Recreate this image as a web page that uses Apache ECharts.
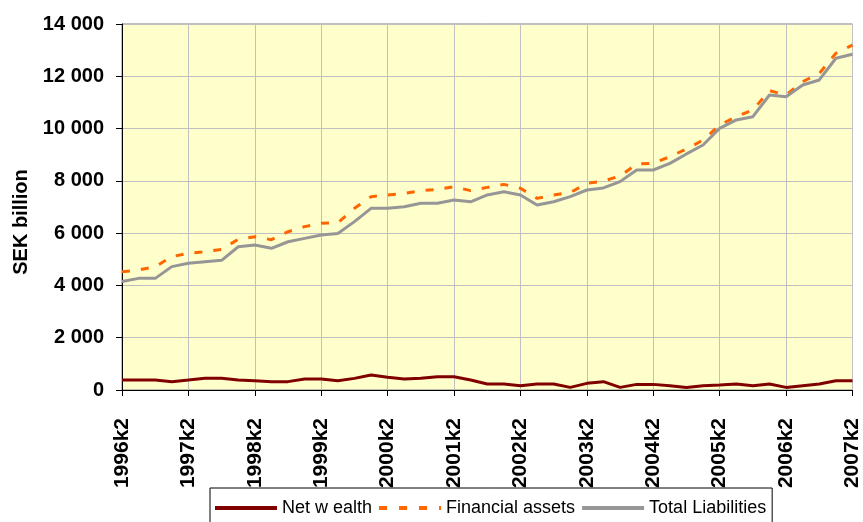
<!DOCTYPE html>
<html>
<head>
<meta charset="utf-8">
<script src="https://cdn.jsdelivr.net/npm/echarts@6/dist/echarts.min.js"></script>
<style>
  html, body { margin: 0; padding: 0; background: #fff; }
  #chart { width: 863px; height: 522px; }
</style>
</head>
<body>
<div id="chart"></div>
<script>
var quarters = [];
for (var y = 1996; y <= 2007; y++) {
    for (var q = 1; q <= 4; q++) {
        if ((y === 1996 && q < 2) || (y === 2007 && q > 2)) continue;
        quarters.push(y + 'k' + q);
    }
}

var netWealth = [380, 380, 380, 320, 380, 445, 445, 380, 355, 320, 320, 420, 420, 350, 445,
    575, 485, 420, 445, 510, 510, 380, 230, 230, 165, 230, 230, 100, 255, 320,
    100, 215, 215, 165, 100, 165, 190, 230, 165, 230, 100, 165, 230, 355, 355];

var financialAssets = [4525, 4590, 4715, 5100, 5230, 5290, 5380, 5765, 5865, 5750, 6055, 6250, 6375, 6400, 6950,
    7395, 7460, 7520, 7625, 7675, 7775, 7625, 7750, 7865, 7715, 7330, 7460, 7550, 7905, 7995,
    8185, 8645, 8670, 8925, 9220, 9560, 10135, 10455, 10710, 11450, 11285, 11795, 12110, 12880, 13195];

var totalLiabilities = [4150, 4270, 4270, 4720, 4845, 4910, 4960, 5480, 5545, 5420, 5670, 5800, 5930, 5990, 6440,
    6950, 6950, 7010, 7140, 7140, 7270, 7200, 7460, 7585, 7460, 7075, 7200, 7395, 7650, 7730,
    7970, 8415, 8415, 8670, 9030, 9370, 10010, 10330, 10455, 11285, 11220, 11665, 11860, 12690, 12840];

var chart = echarts.init(document.getElementById('chart'));

function yearTick(idx) {
    return idx % 4 === 0;
}

// legend icons drawn as paths so the dashes show and no symbol dot appears
var solidIcon = 'path://M0,0h62v4h-62z';
var dashIcon = 'path://M0,0h8v4h-8z M20,0h8v4h-8z M40,0h8v4h-8z M60,0h2v4h-2z';

chart.setOption({
    animation: false,
    textStyle: { fontFamily: 'Liberation Sans, Arial, sans-serif' },
    grid: {
        left: 122, right: 8, top: 24, bottom: 132,
        show: true,
        backgroundColor: '#FFFFCC',
        borderColor: '#808080',
        borderWidth: 1
    },
    graphic: [{
        type: 'text',
        x: 21, y: 222,
        rotation: Math.PI / 2,
        style: {
            text: 'SEK billion',
            font: 'bold 20px "Liberation Sans", Arial, sans-serif',
            fill: '#000',
            align: 'center',
            verticalAlign: 'middle'
        }
    }],
    legend: {
        left: 210, top: 488,
        itemWidth: 62,
        itemHeight: 4,
        itemGap: 7,
        padding: [11, 6, 20, 5],
        borderColor: '#000',
        borderWidth: 1,
        borderRadius: 0,
        textStyle: { fontSize: 18, color: '#000' },
        data: [
            { name: 'Net w ealth', icon: solidIcon },
            { name: 'Financial assets', icon: dashIcon },
            { name: 'Total Liabilities', icon: solidIcon }
        ]
    },
    xAxis: {
        type: 'category',
        data: quarters,
        boundaryGap: false,
        axisLine: { lineStyle: { color: '#000', width: 1 } },
        axisTick: { interval: yearTick, length: 6, lineStyle: { color: '#000' } },
        axisLabel: {
            interval: yearTick,
            rotate: 90,
            fontSize: 21,
            fontWeight: 'bold',
            color: '#000',
            margin: 28
        },
        splitLine: { show: true, interval: yearTick, lineStyle: { color: '#C0C0C0', width: 1 } }
    },
    yAxis: {
        type: 'value',
        min: 0, max: 14000, interval: 2000,
        axisLine: { show: true, lineStyle: { color: '#000', width: 1 } },
        axisTick: { show: true, length: 6, lineStyle: { color: '#000' } },
        axisLabel: {
            fontSize: 20,
            fontWeight: 'bold',
            color: '#000',
            margin: 18,
            formatter: function (v) {
                return String(v).replace(/\B(?=(\d{3})+(?!\d))/g, ' ');
            }
        },
        splitLine: { show: true, lineStyle: { color: '#C0C0C0', width: 1 } }
    },
    series: [
        {
            name: 'Net w ealth',
            type: 'line',
            data: netWealth,
            symbol: 'none',
            lineStyle: { color: '#800000', width: 3 },
            itemStyle: { color: '#800000' },
            z: 3
        },
        {
            name: 'Financial assets',
            type: 'line',
            data: financialAssets,
            symbol: 'none',
            lineStyle: { color: '#FF6600', width: 3, type: [8, 11] },
            itemStyle: { color: '#FF6600' },
            z: 2
        },
        {
            name: 'Total Liabilities',
            type: 'line',
            data: totalLiabilities,
            symbol: 'none',
            lineStyle: { color: '#969696', width: 3 },
            itemStyle: { color: '#969696' },
            z: 4
        }
    ]
});
</script>
</body>
</html>
